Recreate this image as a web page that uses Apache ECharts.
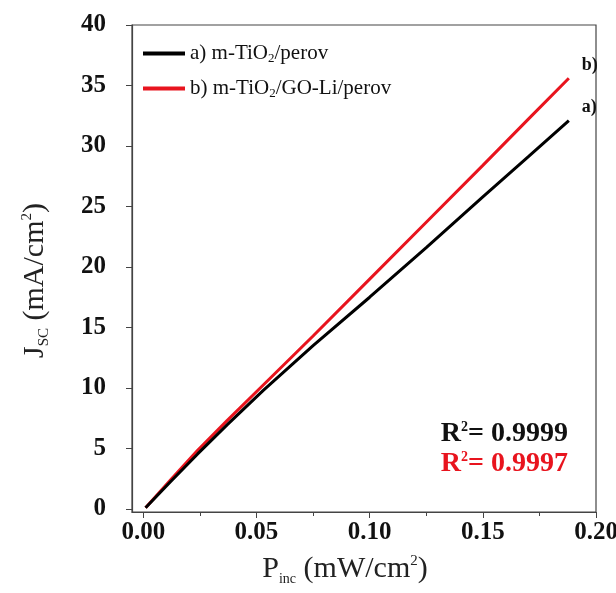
<!DOCTYPE html>
<html>
<head>
<meta charset="utf-8">
<script src="https://cdn.jsdelivr.net/npm/echarts@6/dist/echarts.min.js"></script>
<style>html,body{margin:0;padding:0;background:#fff;}#c{width:616px;height:593px;}</style>
</head>
<body>
<div id="c"></div>
<script>
const pInc = [0.001, 0.012, 0.024, 0.037, 0.053, 0.075, 0.100, 0.125, 0.150, 0.170, 0.188];
const jscA = [0.1, 2.25, 4.55, 6.95, 9.8, 13.5, 17.5, 21.6, 25.8, 29.1, 32.1];
const jscB = [0.1, 2.4, 4.85, 7.3, 10.25, 14.3, 19.0, 23.7, 28.4, 32.2, 35.6];
const seriesNames = ['a) m-TiO{sub|2}/perov', 'b) m-TiO{sub|2}/GO-Li/perov'];
const endTags = ['a)', 'b)'];
const r2Values = ['0.9999', '0.9997'];
const xTicks = [0, 0.05, 0.1, 0.15, 0.2];
const yTicks = [0, 5, 10, 15, 20, 25, 30, 35, 40];

const serif = 'Liberation Serif';
const chart = echarts.init(document.getElementById('c'));
function pairs(xs, ys){ return xs.map((x,i)=>[x, ys[i]]); }

chart.setOption({
  animation: false,
  backgroundColor: '#fff',
  grid: { left: 132, right: 20, top: 25, bottom: 81, show: true, borderColor: '#444', borderWidth: 1.2,
          containLabel: false, outerBoundsMode: 'none' },
  legend: {
    left: 138, top: 38, orient: 'vertical', itemGap: 13,
    icon: 'rect', itemWidth: 42, itemHeight: 4,
    data: seriesNames,
    textStyle: {
      fontFamily: serif, fontSize: 21, color: '#111',
      rich: { sub: { fontFamily: serif, fontSize: 13, padding: [10,0,0,0], color: '#111' } }
    }
  },
  xAxis: {
    type: 'value', min: -0.005, max: 0.2,
    axisLine: { show: true, onZero: false, lineStyle: { color: '#444', width: 1.2 } },
    axisTick: { show: true, inside: false, length: 6, lineStyle: { color: '#444' }, customValues: xTicks },
    minorTick: { show: true, splitNumber: 2, length: 4, lineStyle: { color: '#444' } },
    splitLine: { show: false },
    axisLabel: {
      margin: 8, fontFamily: serif, fontWeight: 'bold', fontSize: 25, color: '#111',
      customValues: xTicks,
      formatter: v => v.toFixed(2)
    },
    name: 'P{sub|inc} (mW/cm{sup|2})',
    nameLocation: 'middle', nameGap: 40,
    nameTextStyle: {
      fontFamily: serif, fontSize: 30, color: '#222', padding: [0, 38, 0, 0],
      rich: {
        sub: { fontFamily: serif, fontSize: 14, padding: [20,0,0,0], color: '#222' },
        sup: { fontFamily: serif, fontSize: 15, padding: [0,0,16,0], color: '#222' }
      }
    }
  },
  yAxis: {
    type: 'value', min: -0.25, max: 40,
    axisLine: { show: true, onZero: false, lineStyle: { color: '#444', width: 1.2 } },
    axisTick: { show: true, inside: false, length: 6, lineStyle: { color: '#444' }, customValues: yTicks },
    minorTick: { show: true, splitNumber: 2, length: 4, lineStyle: { color: '#444' } },
    splitLine: { show: false },
    axisLabel: {
      margin: 26, fontFamily: serif, fontWeight: 'bold', fontSize: 25, color: '#111',
      customValues: yTicks
    },
    name: 'J{sub|SC} (mA/cm{sup|2})',
    nameLocation: 'middle', nameGap: 80, nameRotate: 90,
    nameTextStyle: {
      fontFamily: serif, fontSize: 30, color: '#222', padding: [0, 24, 0, 0],
      rich: {
        sub: { fontFamily: serif, fontSize: 15, padding: [18,0,0,0], color: '#222' },
        sup: { fontFamily: serif, fontSize: 15, padding: [0,0,16,0], color: '#222' }
      }
    }
  },
  series: [
    {
      name: seriesNames[0], type: 'line', showSymbol: false,
      data: pairs(pInc, jscA), color: '#000',
      lineStyle: { width: 3, color: '#000' },
      endLabel: { show: true, formatter: endTags[0], offset: [5, -13], fontFamily: serif, fontWeight: 'bold', fontSize: 18, color: '#111' },
      z: 3
    },
    {
      name: seriesNames[1], type: 'line', showSymbol: false,
      data: pairs(pInc, jscB), color: '#e8141e',
      lineStyle: { width: 3, color: '#e8141e' },
      endLabel: { show: true, formatter: endTags[1], offset: [5, -13], fontFamily: serif, fontWeight: 'bold', fontSize: 18, color: '#111' },
      z: 2
    }
  ],
  graphic: [
    { type: 'text', right: 48, top: 420, style: { text: '{b|R}{s|2}{b|= ' + r2Values[0] + '}', fill: '#111',
      rich: { b: { fontFamily: serif, fontWeight: 'bold', fontSize: 28, fill: '#111' }, s: { fontFamily: serif, fontWeight: 'bold', fontSize: 14, padding: [0,0,14,0], fill: '#111' } } } },
    { type: 'text', right: 48, top: 450, style: { text: '{b|R}{s|2}{b|= ' + r2Values[1] + '}', fill: '#e8141e',
      rich: { b: { fontFamily: serif, fontWeight: 'bold', fontSize: 28, fill: '#e8141e' }, s: { fontFamily: serif, fontWeight: 'bold', fontSize: 14, padding: [0,0,14,0], fill: '#e8141e' } } } }
  ]
});
</script>
</body>
</html>
